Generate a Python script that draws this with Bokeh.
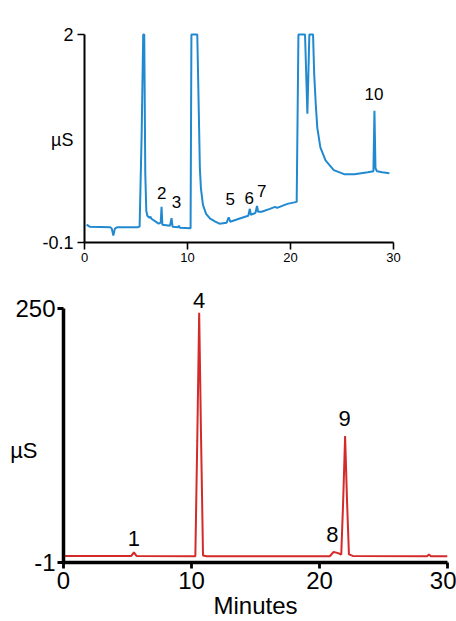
from bokeh.plotting import figure
from bokeh.models import FixedTicker, LabelSet, ColumnDataSource, Range1d, LinearAxis
from bokeh.core.properties import value
from bokeh.embed import file_html
from bokeh.resources import INLINE

FONT = "Liberation Sans"

# ---- top chromatogram (blue), µS vs minutes ----
top_time = [0.2, 0.5, 2.5, 2.65, 2.8, 2.95, 3.2, 5.2, 5.35, 5.55, 5.7, 5.8, 5.9, 6.0, 6.1,
            6.3, 6.4, 6.5, 7.2, 7.4, 7.48, 7.56, 8.3, 8.45, 8.55, 9.1, 9.17, 9.25, 10.3,
            10.38, 10.95, 11.1, 11.2, 11.3, 11.5, 11.8, 12.2, 12.7, 13.1, 13.8, 14.0, 14.15,
            15.0, 15.9, 16.05, 16.15, 16.4, 16.6, 16.75, 16.85, 17.2, 18.0, 18.5, 18.7, 19.7,
            20.6, 20.77, 21.41, 21.64, 21.83, 22.19, 22.3, 22.45, 22.6, 22.9, 23.4, 24.2,
            25.2, 26.2, 27.5, 28.05, 28.15, 28.25, 28.4, 28.9, 29.6]
top_signal = [0.08, 0.06, 0.055, 0.04, -0.03, 0.04, 0.055, 0.055, 0.06, 1.0, 2.0, 2.0, 0.6, 0.22, 0.17,
              0.15, 0.16, 0.14, 0.09, 0.1, 0.26, 0.08, 0.07, 0.145, 0.06, 0.055, 0.07, 0.05, 0.045,
              2.0, 2.0, 1.2, 0.65, 0.45, 0.28, 0.19, 0.14, 0.11, 0.09, 0.1, 0.155, 0.11,
              0.14, 0.17, 0.24, 0.18, 0.19, 0.2, 0.27, 0.21, 0.21, 0.24, 0.26, 0.25, 0.29,
              0.31, 2.0, 2.0, 1.2, 2.0, 2.0, 1.6, 1.3, 1.06, 0.86, 0.73, 0.63,
              0.59, 0.59, 0.61, 0.62, 1.23, 0.65, 0.62, 0.61, 0.60]
top_peak_names = ["2", "3", "5", "6", "7", "10"]
top_peak_x = [7.5, 8.94, 14.15, 16.0, 17.2, 28.1]
top_peak_y = [0.40, 0.31, 0.34, 0.35, 0.42, 1.40]
top_yticks = [-0.1, 2]
top_unit_at = 0.93   # height where the "µS" unit label sits

# ---- bottom chromatogram (red) ----
bot_time = [0.0, 5.3, 5.5, 5.7, 10.3, 10.45, 10.6, 10.75, 10.9, 11.2, 20.8, 21.1, 21.4, 21.7,
            21.85, 22.0, 22.15, 22.3, 22.6, 28.4, 28.55, 28.7, 30.0]
bot_signal = [5.5, 5.5, 9.0, 5.5, 5.2, 120, 246, 120, 6.0, 5.2, 5.2, 9.4, 8.5, 6.9,
              60, 124, 60, 7.0, 5.5, 5.2, 7.0, 5.2, 5.2]
bot_peak_names = ["1", "4", "8", "9"]
bot_peak_x = [5.5, 10.6, 21.0, 21.97]
bot_peak_y = [23.0, 258.5, 27.0, 141.0]
bot_yticks = [-1, 250]
bot_unit_at = 110

x_ticks = [0, 10, 20, 30]

BLUE = "#2189cf"
RED = "#d42a2a"


def style(p, axis_w, ytick_size, xtick_size, tick_out, ystand, xstand):
    p.outline_line_color = None
    p.xgrid.grid_line_color = None
    p.ygrid.grid_line_color = None
    p.background_fill_color = "white"
    p.border_fill_color = "white"
    for ax in (p.xaxis[0], p.yaxis[0]):
        ax.axis_line_width = axis_w
        ax.axis_line_color = "black"
        ax.major_tick_line_width = axis_w * 0.8
        ax.major_tick_in = 0
        ax.major_tick_out = tick_out
        ax.minor_tick_line_color = None
        ax.major_label_text_font = FONT
        ax.major_label_text_color = "black"
        ax.axis_label_text_font = FONT
        ax.axis_label_text_font_style = "normal"
        ax.axis_label_text_color = "black"
    p.yaxis[0].major_label_text_font_size = f"{ytick_size}px"
    p.xaxis[0].major_label_text_font_size = f"{xtick_size}px"
    p.yaxis[0].major_label_standoff = ystand
    p.xaxis[0].major_label_standoff = xstand


def unit_axis(p, at, size, standoff):
    ax = LinearAxis(ticker=FixedTicker(ticks=[at]), major_label_overrides={at: "µS"},
                    axis_line_color=None, major_tick_line_color=None, minor_tick_line_color=None,
                    major_tick_in=0, major_tick_out=0, major_label_standoff=standoff,
                    major_label_text_font=FONT, major_label_text_font_size=f"{size}px",
                    major_label_text_color="black")
    p.add_layout(ax, "left")


top = figure(width=456, height=280, x_range=Range1d(0, 30), y_range=Range1d(-0.1, 2.03),
             output_backend="svg", toolbar_location=None,
             min_border_left=84, min_border_right=63, min_border_top=31, min_border_bottom=38)
top.line(top_time, top_signal, line_color=BLUE, line_width=2)
top.xaxis.ticker = FixedTicker(ticks=x_ticks)
top.yaxis.ticker = FixedTicker(ticks=top_yticks)
top.yaxis.bounds = (top_yticks[0], top_yticks[1])
top.yaxis.major_label_overrides = {-0.1: "-0.1"}
style(top, 2, 18, 13, 7, 4, 3)
unit_axis(top, top_unit_at, 18, -34)
src_t = ColumnDataSource(dict(x=top_peak_x, y=top_peak_y, t=top_peak_names))
top.add_layout(LabelSet(x="x", y="y", text="t", source=src_t, text_align="center",
                        text_baseline="middle", text_font=value(FONT), text_font_size="17px",
                        text_color="black"))

bot = figure(width=456, height=341, x_range=Range1d(0, 30), y_range=Range1d(-1, 266),
             output_backend="svg", toolbar_location=None,
             min_border_left=63, min_border_right=9, min_border_top=12, min_border_bottom=58)
bot.line(bot_time, bot_signal, line_color=RED, line_width=2)
bot.xaxis.ticker = FixedTicker(ticks=x_ticks)
bot.yaxis.ticker = FixedTicker(ticks=bot_yticks)
bot.yaxis.bounds = (bot_yticks[0], bot_yticks[1])
bot.yaxis.major_label_overrides = {-1: "-1"}
style(bot, 3.5, 24, 24, 6, 2, 3)
unit_axis(bot, bot_unit_at, 22, -25)
bot.xaxis.axis_label = "Minutes"
bot.xaxis.axis_label_text_font_size = "24px"
bot.xaxis.axis_label_standoff = 0
src_b = ColumnDataSource(dict(x=bot_peak_x, y=bot_peak_y, t=bot_peak_names))
bot.add_layout(LabelSet(x="x", y="y", text="t", source=src_b, text_align="center",
                        text_baseline="middle", text_font=value(FONT), text_font_size="22px",
                        text_color="black"))

open("out.html", "w").write(file_html([top, bot], INLINE))
